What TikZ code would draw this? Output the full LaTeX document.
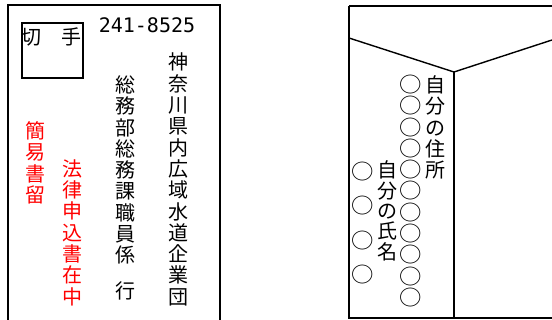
\documentclass[tikz,border=0pt]{standalone}
\usepackage{fontspec}
\usepackage{graphicx}
\setmainfont{Noto Sans CJK JP}
\newfontfamily\zipfont{DejaVu Sans Mono}
\usetikzlibrary{positioning}
\newcommand{\ring}{\scalebox{1.12}[1.05]{○}}

\begin{document}
\begin{tikzpicture}[x=1pt, y=-1pt,
    envline/.style={line width=2pt},
    flapline/.style={line width=1.4pt},
    vcol/.style={align=center, inner sep=0pt, font=\fontsize{20}{21.3}\selectfont},
    redcol/.style={vcol, text=red}]

    \useasboundingbox (0,0) rectangle (552,320);
    \clip (0,0) rectangle (552,320);

    % Front of the envelope
    \draw[envline] (8,330) -- (8,5) -- (220,5) -- (220,330);
    \draw[envline] (22,23) rectangle (83,78);

    % Define nodes
    \node[font=\fontsize{20}{20}\selectfont, inner sep=0pt] (kitte) at (51,37) {切　手};
    \node[font=\zipfont\fontsize{20}{20}\selectfont, inner sep=0pt] (zip) at (147,25) {241-8525};
    \node[vcol] (addr) at (178,179.5) {神\\奈\\川\\県\\内\\広\\域\\水\\道\\企\\業\\団};
    \node[vcol] (dept) at (125,170) {総\\務\\部\\総\\務\\課\\職\\員\\係};
    \node[vcol] (yuki) at (125,291) {行};
    \node[redcol] (kani) at (35,163) {簡\\易\\書\\留};
    \node[redcol] (houritsu) at (72,232.5) {法\\律\\申\\込\\書\\在\\中};

    % Back of the envelope
    \draw[envline] (349,6) -- (560,6);
    \draw[envline] (560,318) -- (349,318) -- (349,6);
    \coordinate (flapL) at (349,38);
    \coordinate (flapT) at (454,72);
    \coordinate (flapR) at (552,40);
    \coordinate (seamB) at (454,318);
    \draw[flapline] (flapL) -- (flapT) -- (flapR);
    \draw[flapline] (flapT) -- (seamB);

    \node[vcol] (ownring) at (411,191) {\ring\\\ring\\\ring\\\ring\\\ring\\\ring\\\ring\\\ring\\\ring\\\ring\\\ring};
    \node[vcol] (ownaddr) at (435,127.5) {自\\分\\の\\住\\所};
    \node[vcol, font=\fontsize{20}{34.5}\selectfont] (namering) at (363,223) {\ring\\\ring\\\ring\\\ring};
    \node[vcol, font=\fontsize{20}{20.3}\selectfont] (ownname) at (387,211) {自\\分\\の\\氏\\名};

\end{tikzpicture}
\end{document}
